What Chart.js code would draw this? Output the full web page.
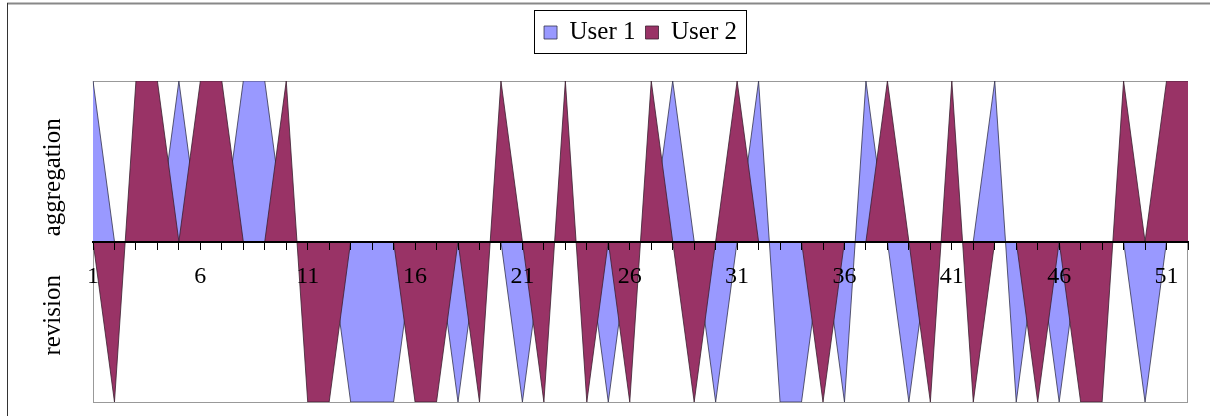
<!DOCTYPE html>
<html><head><meta charset="utf-8">
<script src="https://cdn.jsdelivr.net/npm/chart.js@4/dist/chart.umd.min.js"></script>
<style>html,body{margin:0;padding:0;background:#fff;overflow:hidden}#wrap{position:relative;width:1210px;height:416px}</style>
</head><body><div id="wrap"><canvas id="c" width="1210" height="416"></canvas></div>
<script>
const categories = ['1','2','3','4','5','6','7','8','9','10','11','12','13','14','15','16','17','18','19','20','21','22','23','24','25','26','27','28','29','30','31','32','33','34','35','36','37','38','39','40','41','42','43','44','45','46','47','48','49','50','51','52'];
const tickLabels = ['1','6','11','16','21','26','31','36','41','46','51'];
const seriesNames = ['User 1','User 2'];
const user1 = [1,0,0,0,1,0,0,1,1,0, 0,0,-1,-1,-1,0,0,-1,0,0, -1,0,0,0,-1,0,0,1,0,-1, 0,1,-1,-1,0,-1,1,0,-1,0, 0,0,1,-1,0,-1,0,0,0,-1, 0,0];
const user2 = [0,-1,1,1,0,1,1,0,0,1, -1,-1,0,0,0,-1,-1,0,-1,1, 0,-1,1,-1,0,-1,1,0,-1,0, 1,0,0,0,-1,0,0,1,0,-1, 1,-1,0,0,-1,0,-1,-1,1,0, 1,1];
const yLabels = ['aggregation','revision'];

const SERIF = '"Liberation Serif", "DejaVu Serif", serif';

const framePlugin = {
  id: 'frame',
  beforeDraw(chart) {
    const ctx = chart.ctx;
    ctx.save();
    ctx.fillStyle = '#fff';
    ctx.fillRect(0, 0, chart.width, chart.height);
    ctx.strokeStyle = '#888';
    ctx.lineWidth = 2;
    ctx.beginPath(); ctx.moveTo(7, 3.5); ctx.lineTo(chart.width, 3.5); ctx.stroke();
    ctx.strokeStyle = '#333';
    ctx.lineWidth = 1;
    ctx.beginPath(); ctx.moveTo(7.5, 3); ctx.lineTo(7.5, chart.height); ctx.stroke();
    ctx.restore();
  },
  beforeDatasetsDraw(chart) {
    const a = chart.chartArea, ctx = chart.ctx;
    ctx.save();
    ctx.strokeStyle = '#999';
    ctx.lineWidth = 1;
    ctx.strokeRect(a.left + 0.5, a.top + 0.5, a.right - a.left - 1, a.bottom - a.top);
    ctx.restore();
  },
  afterDraw(chart) {
    const ctx = chart.ctx;
    const lg = chart.legend;
    const hb = lg.legendHitBoxes;
    if (hb && hb.length) {
      const l = Math.min(...hb.map(h => h.left)) - 10;
      const r = Math.max(...hb.map(h => h.left + h.width)) + 9;
      ctx.save();
      ctx.strokeStyle = '#000';
      ctx.lineWidth = 1;
      ctx.strokeRect(Math.round(l) + 0.5, Math.round(lg.top) + 0.5, Math.round(r - l), 43);
      ctx.restore();
    }
    const y = chart.scales.y;
    ctx.save();
    ctx.font = '25px ' + SERIF;
    ctx.fillStyle = '#000';
    ctx.textAlign = 'center';
    ctx.textBaseline = 'alphabetic';
    [[yLabels[0], y.getPixelForValue(0.4)], [yLabels[1], y.getPixelForValue(-0.46)]].forEach(([t, cy]) => {
      ctx.save();
      ctx.translate(60, cy);
      ctx.rotate(-Math.PI / 2);
      ctx.fillText(t, 0, 0);
      ctx.restore();
    });
    ctx.restore();
  }
};

new Chart(document.getElementById('c'), {
  type: 'line',
  data: {
    labels: categories,
    datasets: [
      { label: seriesNames[1], data: user2, backgroundColor: '#993366', borderColor: '#3a2030', borderWidth: 0.8, fill: 'origin', pointRadius: 0, tension: 0 },
      { label: seriesNames[0], data: user1, backgroundColor: '#9999ff', borderColor: '#33334d', borderWidth: 0.8, fill: 'origin', pointRadius: 0, tension: 0 }
    ]
  },
  options: {
    responsive: false,
    devicePixelRatio: 1,
    animation: false,
    events: [],
    layout: { padding: { left: 93, right: 22, top: 10, bottom: 14 } },
    scales: {
      x: {
        type: 'category',
        position: { y: 0 },
        offset: false,
        grid: { display: true, drawOnChartArea: false, drawTicks: true, tickLength: 7, color: '#000', lineWidth: 1, z: 1 },
        border: { display: true, color: '#000', width: 2, z: 1 },
        ticks: {
          z: 1,
          autoSkip: false, maxRotation: 0, minRotation: 0, padding: 14, color: '#000',
          font: { family: SERIF, size: 24 },
          callback: function (v) { const l = this.getLabelForValue(v); return tickLabels.includes(l) ? l : ''; }
        }
      },
      y: { display: false, min: -1, max: 1 }
    },
    plugins: {
      tooltip: { enabled: false },
      legend: {
        display: true, position: 'top', reverse: true,
        labels: { boxWidth: 13, boxHeight: 13, padding: 10, color: '#000', font: { family: SERIF, size: 25 } }
      },
      title: { display: true, text: '', weight: 500, padding: 0, font: { size: 26, lineHeight: 1 } }
    }
  },
  plugins: [framePlugin]
});
</script>
</body></html>
